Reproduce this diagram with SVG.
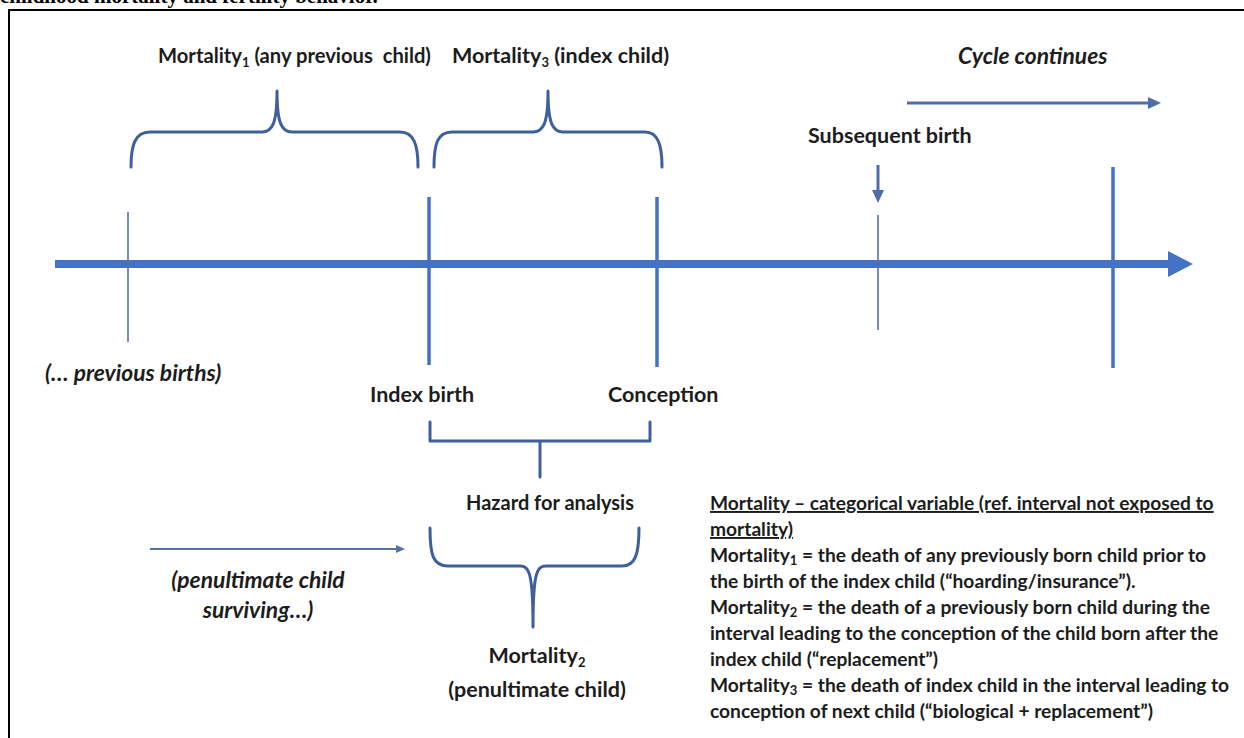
<svg xmlns="http://www.w3.org/2000/svg" width="1244" height="738" viewBox="0 0 1244 738">
<defs>
<style>
.t{font-family:Lato,"Liberation Sans",sans-serif;font-weight:700;fill:#1c1c1c;font-size:21.5px}
.ti{font-style:italic;font-size:22.8px}
.lg{font-size:19.2px}
.sub{font-size:13px}
.axis{stroke:#4472C4;fill:none}
.thick{stroke:#4472C4;stroke-width:3.5;fill:none}
.thin{stroke:#5670A8;stroke-width:1.6;fill:none}
.brace{stroke:#3F5E9C;stroke-width:3;fill:none;stroke-linecap:round;stroke-linejoin:round}
.arr{stroke:#4F6DAA;stroke-width:3;fill:none}
</style>
</defs>
<rect width="1244" height="738" fill="#fff"/>
<text x="0" y="3" font-family="'Liberation Serif',serif" font-weight="700" font-size="21" fill="#000">childhood mortality and fertility behavior.</text>
<path d="M9,738 V10 H1244" stroke="#000" stroke-width="2" fill="none"/>

<g id="connectors">
  <line class="axis" x1="55" y1="264" x2="1172" y2="264" stroke-width="8"/>
  <polygon points="1168,251 1193,264 1168,277" fill="#4472C4"/>
  <line class="thin" x1="128" y1="212" x2="128" y2="342"/>
  <line class="thick" x1="429" y1="197" x2="429" y2="365"/>
  <line class="thick" x1="657" y1="197" x2="657" y2="367"/>
  <line class="thin" x1="878" y1="215" x2="878" y2="330"/>
  <line class="thick" x1="1113" y1="167" x2="1113" y2="368"/>
  <line class="arr" x1="878" y1="165" x2="878" y2="192"/>
  <polygon points="872,190 878,203 884,190" fill="#4F6DAA"/>
  <line class="arr" x1="907" y1="103" x2="1150" y2="103"/>
  <polygon points="1148,97 1161,103 1148,109" fill="#4F6DAA"/>
  <line x1="150" y1="549" x2="398" y2="549" stroke="#5670A8" stroke-width="1.8"/>
  <polygon points="396,545 405,549 396,553" fill="#5670A8"/>
  <path class="brace" d="M131,167 C131,145 135,132 150,132 L262,132 C272,132 277,124 277,91 C277,124 282,132 292,132 L400,132 C414,132 418,145 418,167"/>
  <path class="brace" d="M434,167 C434,145 437,132 452,132 L533,132 C543,132 548,124 548,91 C548,124 553,132 563,132 L645,132 C658,132 662,145 662,167"/>
  <path class="brace" d="M430,422 L430,441 L650,441 L650,422 M540,441 L540,477"/>
  <path class="brace" d="M430,528 C430,555 433,566 448,566 L520,566 C529,566 533,572 533,627 C533,572 537,566 546,566 L622,566 C635,566 639,555 639,528"/>
</g>

<g id="label-mortality1"><text class="t" x="158" y="63" style="font-size:20.2px" xml:space="preserve">Mortality<tspan class="sub" dy="4">1</tspan><tspan dy="-4"> (any previous  child)</tspan></text></g>
<g id="label-mortality3"><text class="t" x="452" y="63">Mortality<tspan class="sub" dy="4">3</tspan><tspan dy="-4"> (index child)</tspan></text></g>
<g id="label-cycle"><text class="t ti" x="958" y="64">Cycle continues</text></g>
<g id="label-subsequent"><text class="t" x="808" y="143">Subsequent birth</text></g>
<g id="label-previous"><text class="t ti" x="45" y="381">(… previous births)</text></g>
<g id="label-index"><text class="t" x="370" y="402">Index birth</text></g>
<g id="label-conception"><text class="t" x="608" y="402">Conception</text></g>
<g id="label-hazard"><text class="t" x="550" y="510" text-anchor="middle" style="font-size:20px">Hazard for analysis</text></g>
<g id="label-penultimate"><text class="t ti" x="258" y="588" text-anchor="middle">(penultimate child</text><text class="t ti" x="258" y="618" text-anchor="middle">surviving…)</text></g>
<g id="label-mortality2"><text class="t" x="537" y="663" text-anchor="middle">Mortality<tspan class="sub" dy="4">2</tspan></text><text class="t" x="537" y="697" text-anchor="middle">(penultimate child)</text></g>

<g id="legend">
  <text class="t lg" x="710" y="510" text-decoration="underline">Mortality – categorical variable (ref. interval not exposed to</text>
  <text class="t lg" x="710" y="536" text-decoration="underline">mortality)</text>
  <text class="t lg" x="710" y="562">Mortality<tspan class="sub" dy="3">1</tspan><tspan dy="-3"> = the death of any previously born child prior to</tspan></text>
  <text class="t lg" x="710" y="588">the birth of the index child (“hoarding/insurance”).</text>
  <text class="t lg" x="710" y="614">Mortality<tspan class="sub" dy="3">2</tspan><tspan dy="-3"> = the death of a previously born child during the</tspan></text>
  <text class="t lg" x="710" y="640">interval leading to the conception of the child born after the</text>
  <text class="t lg" x="710" y="666">index child (“replacement”)</text>
  <text class="t lg" x="710" y="692">Mortality<tspan class="sub" dy="3">3</tspan><tspan dy="-3"> = the death of index child in the interval leading to</tspan></text>
  <text class="t lg" x="710" y="718">conception of next child (“biological + replacement”)</text>
</g>
</svg>
